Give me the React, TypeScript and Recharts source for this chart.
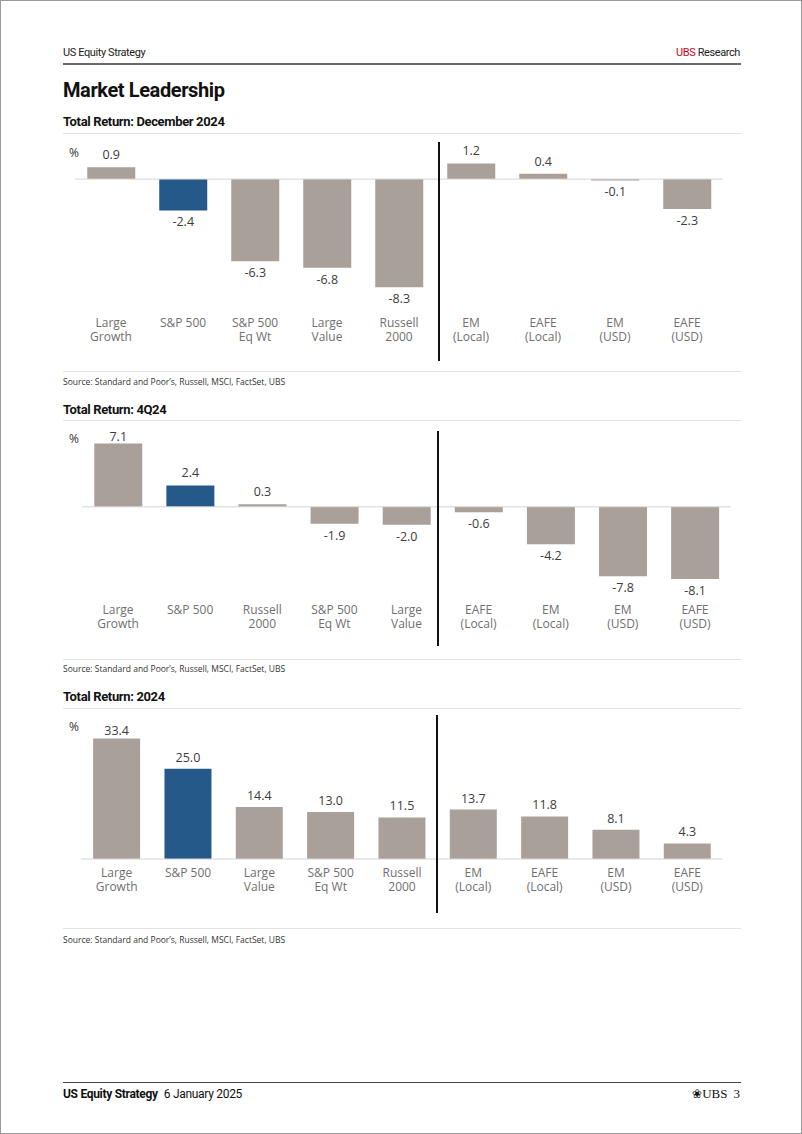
import React from 'react';
import { BarChart, Bar, XAxis, YAxis, Cell, ReferenceLine, LabelList } from 'recharts';

// ---- Data ----
const decCategories = ['Large\nGrowth', 'S&P 500', 'S&P 500\nEq Wt', 'Large\nValue', 'Russell\n2000', 'EM\n(Local)', 'EAFE\n(Local)', 'EM\n(USD)', 'EAFE\n(USD)'];
const decValues = [0.9, -2.4, -6.3, -6.8, -8.3, 1.2, 0.4, -0.1, -2.3];

const q4Categories = ['Large\nGrowth', 'S&P 500', 'Russell\n2000', 'S&P 500\nEq Wt', 'Large\nValue', 'EAFE\n(Local)', 'EM\n(Local)', 'EM\n(USD)', 'EAFE\n(USD)'];
const q4Values = [7.1, 2.4, 0.3, -1.9, -2.0, -0.6, -4.2, -7.8, -8.1];

const yrCategories = ['Large\nGrowth', 'S&P 500', 'Large\nValue', 'S&P 500\nEq Wt', 'Russell\n2000', 'EM\n(Local)', 'EAFE\n(Local)', 'EM\n(USD)', 'EAFE\n(USD)'];
const yrValues = [33.4, 25.0, 14.4, 13.0, 11.5, 13.7, 11.8, 8.1, 4.3];

const highlight = 'S&P 500';
const sourceText = 'Source: Standard and Poor\u2019s, Russell, MSCI, FactSet, UBS';

const GRAY = '#a9a09a';
const BLUE = '#25598a';
const LABEL_FONT = '"Open Sans", "Noto Sans", sans-serif';
const HEAD_FONT = '"Roboto", sans-serif';

const build = (cats: string[], vals: number[]) => cats.map((c, i) => ({ name: c, value: vals[i] }));

const makeTick = (dy: number) => (props: any) => {
  const { x, y, payload } = props;
  const lines = String(payload.value).split('\n');
  return (
    <text x={x} y={y} textAnchor="middle" fill="#6f6f6f" fontSize={12} fontFamily={LABEL_FONT}>
      {lines.map((l, i) => (
        <tspan key={i} x={x} y={Number(y) + dy + i * 14}>{l}</tspan>
      ))}
    </text>
  );
};

const makeValueLabel = (gap: number, minY: number) => (props: any) => {
  const x = Number(props.x), y = Number(props.y), w = Number(props.width), h = Number(props.height);
  const v = Number(props.value);
  const top = Math.min(y, y + h);
  const bottom = Math.max(y, y + h);
  let cy = v >= 0 ? top - gap : bottom + gap;
  if (cy < minY) cy = minY;
  return (
    <text x={x + w / 2} y={cy + 4} textAnchor="middle" fill="#3c3c3c" fontSize={12.5} fontFamily={LABEL_FONT}>
      {v.toFixed(1)}
    </text>
  );
};

type PanelProps = {
  data: { name: string; value: number }[];
  top: number;
  plotHeight: number;
  domain: [number, number];
  mLeft: number;
  mRight: number;
  tickDy: number;
  gap: number;
  minLabelY: number;
};

const Panel = ({ data, top, plotHeight, domain, mLeft, mRight, tickDy, gap, minLabelY }: PanelProps) => {
  const mTop = 12;
  const axisH = 60;
  return (
    <div style={{ position: 'absolute', left: 62, top }}>
      <BarChart
        width={680}
        height={mTop + plotHeight + axisH}
        data={data}
        margin={{ top: mTop, right: mRight, bottom: 0, left: mLeft }}
        barCategoryGap="17%"
      >
        <XAxis
          dataKey="name"
          axisLine={false}
          tickLine={false}
          tickSize={0}
          tickMargin={0}
          interval={0}
          height={axisH}
          tick={makeTick(tickDy)}
        />
        <YAxis type="number" domain={domain} hide allowDataOverflow />
        <ReferenceLine y={0} stroke="#d4d4d4" strokeWidth={1} />
        <Bar dataKey="value" isAnimationActive={false}>
          {data.map((d, i) => (
            <Cell key={i} fill={d.name === highlight ? BLUE : GRAY} />
          ))}
          <LabelList dataKey="value" content={makeValueLabel(gap, minLabelY)} />
        </Bar>
      </BarChart>
    </div>
  );
};

const abs = (style: React.CSSProperties): React.CSSProperties => ({ position: 'absolute', ...style });

const subTitle: React.CSSProperties = { fontFamily: HEAD_FONT, fontSize: 13, letterSpacing: -0.35, fontWeight: 700, color: '#111', whiteSpace: 'nowrap' };
const smallHead: React.CSSProperties = { fontFamily: HEAD_FONT, fontSize: 11, letterSpacing: -0.4, color: '#222', whiteSpace: 'nowrap' };

export default function App() {
  return (
    <div style={abs({ left: 0, top: 0, width: 802, height: 1134, background: '#fff', border: '1px solid #9a9a9a', boxSizing: 'border-box', overflow: 'hidden' })}>
      {/* header */}
      <div style={abs({ left: 62, top: 45, ...smallHead })}>US Equity Strategy</div>
      <div style={abs({ right: 61, top: 45, ...smallHead })}>
        <span style={{ color: '#d0021b' }}>UBS</span> Research
      </div>
      <div style={abs({ left: 62, top: 62, width: 678, height: 2, background: '#6a6a6a' })} />
      <div style={abs({ left: 62, top: 77, fontFamily: HEAD_FONT, fontSize: 20, letterSpacing: -0.4, fontWeight: 700, color: '#111', whiteSpace: 'nowrap' })}>Market Leadership</div>

      {/* chart 1 */}
      <div style={abs({ left: 62, top: 113, ...subTitle })}>Total Return: December 2024</div>
      <div style={abs({ left: 62, top: 132, width: 678, height: 1, background: '#e2e2e2' })} />
      <div style={abs({ left: 68, top: 143, fontFamily: LABEL_FONT, fontSize: 12, color: '#333' })}>%</div>
      <Panel data={build(decCategories, decValues)} top={140} plotHeight={150} domain={[-9.5, 2]} mLeft={12} mRight={20} tickDy={24} gap={12} minLabelY={0} />
      <div style={abs({ left: 437, top: 141, width: 2, height: 219, background: '#111' })} />
      <div style={abs({ left: 62, top: 370, width: 678, height: 1, background: '#e2e2e2' })} />
      <div style={abs({ left: 62, top: 375, fontFamily: LABEL_FONT, fontSize: 8.5, color: '#333' })}>{sourceText}</div>

      {/* chart 2 */}
      <div style={abs({ left: 62, top: 401, ...subTitle })}>Total Return: 4Q24</div>
      <div style={abs({ left: 62, top: 419, width: 678, height: 1, background: '#e2e2e2' })} />
      <div style={abs({ left: 68, top: 429, fontFamily: LABEL_FONT, fontSize: 12, color: '#333' })}>%</div>
      <Panel data={build(q4Categories, q4Values)} top={427} plotHeight={147} domain={[-9, 7.5]} mLeft={19} mRight={12} tickDy={27} gap={12} minLabelY={9} />
      <div style={abs({ left: 436, top: 430, width: 2, height: 215, background: '#111' })} />
      <div style={abs({ left: 62, top: 658, width: 678, height: 1, background: '#e2e2e2' })} />
      <div style={abs({ left: 62, top: 662, fontFamily: LABEL_FONT, fontSize: 8.5, color: '#333' })}>{sourceText}</div>

      {/* chart 3 */}
      <div style={abs({ left: 62, top: 688, ...subTitle })}>Total Return: 2024</div>
      <div style={abs({ left: 62, top: 707, width: 678, height: 1, background: '#e2e2e2' })} />
      <div style={abs({ left: 68, top: 717, fontFamily: LABEL_FONT, fontSize: 12, color: '#333' })}>%</div>
      <Panel data={build(yrCategories, yrValues)} top={716} plotHeight={130} domain={[0, 36]} mLeft={18} mRight={20} tickDy={18} gap={11} minLabelY={14} />
      <div style={abs({ left: 435, top: 714, width: 2, height: 198, background: '#111' })} />
      <div style={abs({ left: 62, top: 927, width: 678, height: 1, background: '#e2e2e2' })} />
      <div style={abs({ left: 62, top: 933, fontFamily: LABEL_FONT, fontSize: 8.5, color: '#333' })}>{sourceText}</div>

      {/* footer */}
      <div style={abs({ left: 62, top: 1081, width: 678, height: 1, background: '#444' })} />
      <div style={abs({ left: 62, top: 1086, fontFamily: HEAD_FONT, fontSize: 12, letterSpacing: -0.3, color: '#111', whiteSpace: 'nowrap' })}>
        <b>US Equity Strategy</b>
        <span style={{ marginLeft: 6 }}>6 January 2025</span>
      </div>
      <div style={abs({ right: 61, top: 1085, fontFamily: '"Liberation Serif", serif', fontSize: 13, color: '#111', whiteSpace: 'nowrap' })}>
        <span style={{ fontFamily: '"DejaVu Sans", sans-serif', fontSize: 12 }}>{'\u2740'}</span>UBS<span style={{ marginLeft: 6 }}>3</span>
      </div>
    </div>
  );
}
